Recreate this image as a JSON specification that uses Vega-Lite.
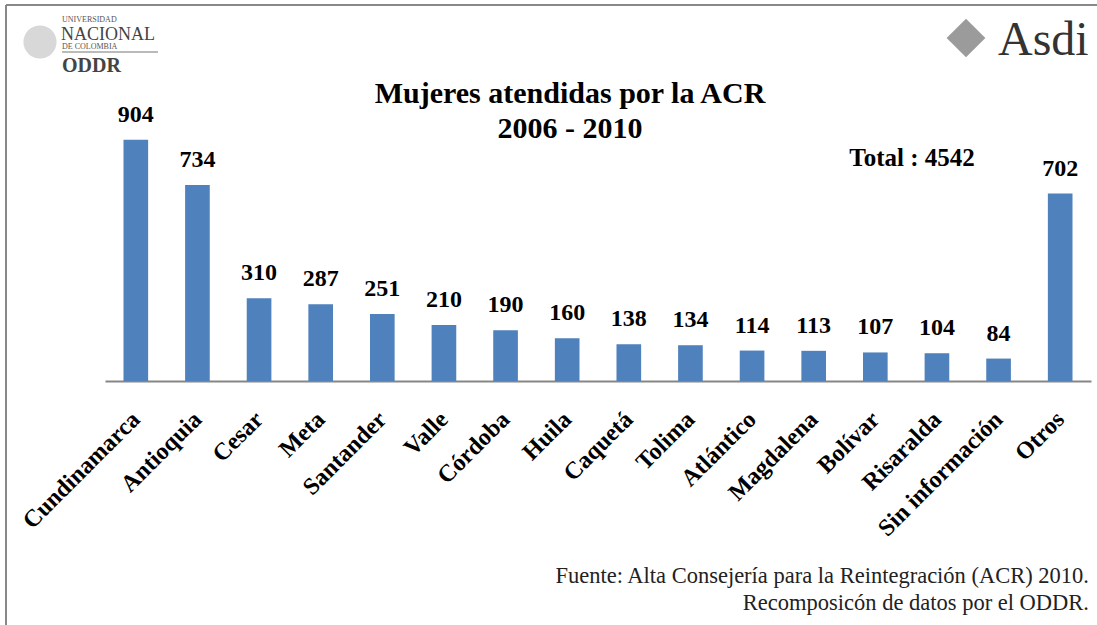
{
  "$schema": "https://vega.github.io/schema/vega-lite/v6.json",
  "width": 986,
  "height": 267,
  "autosize": "none",
  "padding": {"left": 105, "top": 114, "right": 6, "bottom": 244},
  "background": "white",
  "config": {"view": {"stroke": null}, "font": "Liberation Serif"},
  "data": {
    "values": [
      {"dep": "Cundinamarca", "n": 904},
      {"dep": "Antioquia", "n": 734},
      {"dep": "Cesar", "n": 310},
      {"dep": "Meta", "n": 287},
      {"dep": "Santander", "n": 251},
      {"dep": "Valle", "n": 210},
      {"dep": "Córdoba", "n": 190},
      {"dep": "Huila", "n": 160},
      {"dep": "Caquetá", "n": 138},
      {"dep": "Tolima", "n": 134},
      {"dep": "Atlántico", "n": 114},
      {"dep": "Magdalena", "n": 113},
      {"dep": "Bolívar", "n": 107},
      {"dep": "Risaralda", "n": 104},
      {"dep": "Sin información", "n": 84},
      {"dep": "Otros", "n": 702}
    ]
  },
  "encoding": {
    "x": {
      "field": "dep", "type": "nominal", "sort": null,
      "scale": {"paddingInner": 0.6, "paddingOuter": 0.3},
      "axis": {
        "title": null, "labelAngle": -45, "labelAlign": "right", "labelBaseline": "top",
        "labelFont": "Liberation Serif", "labelFontSize": 24, "labelFontWeight": "bold",
        "labelColor": "black", "labelPadding": 26, "labelOffset": -8, "ticks": false,
        "domainColor": "#868686", "domainWidth": 2, "labelOverlap": false, "labelBound": false, "labelLimit": 0
      }
    },
    "y": {"field": "n", "type": "quantitative", "scale": {"domain": [0, 1000]}, "axis": null}
  },
  "layer": [
    {"mark": {"type": "bar", "color": "#4F81BD"}},
    {
      "mark": {"type": "text", "dy": -18, "baseline": "alphabetic", "font": "Liberation Serif", "fontSize": 24, "fontWeight": "bold", "color": "black"},
      "encoding": {"text": {"field": "n", "type": "quantitative"}}
    },
    {
      "data": {"values": [{}]},
      "layer": [
        {"mark": {"type": "rule", "color": "#888888", "strokeWidth": 2}, "encoding": {"x": {"value": -99}, "y": {"value": -109}, "y2": {"value": 511}}},
        {"mark": {"type": "rule", "color": "#888888", "strokeWidth": 2}, "encoding": {"x": {"value": -99}, "x2": {"value": 992}, "y": {"value": -109}}},
        {"mark": {"type": "text", "align": "center", "baseline": "alphabetic", "font": "Liberation Serif", "fontSize": 30, "fontWeight": "bold", "color": "black", "text": "Mujeres atendidas por la ACR"}, "encoding": {"x": {"value": 465}, "y": {"value": -11}}},
        {"mark": {"type": "text", "align": "center", "baseline": "alphabetic", "font": "Liberation Serif", "fontSize": 30, "fontWeight": "bold", "color": "black", "text": "2006 - 2010"}, "encoding": {"x": {"value": 465}, "y": {"value": 24}}},
        {"mark": {"type": "text", "align": "center", "baseline": "alphabetic", "font": "Liberation Serif", "fontSize": 25, "fontWeight": "bold", "color": "black", "text": "Total : 4542"}, "encoding": {"x": {"value": 807}, "y": {"value": 52}}},
        {"mark": {"type": "text", "align": "right", "baseline": "alphabetic", "font": "Liberation Serif", "fontSize": 22.5, "color": "#222222", "text": "Fuente: Alta Consejería para la Reintegración (ACR) 2010."}, "encoding": {"x": {"value": 984}, "y": {"value": 469}}},
        {"mark": {"type": "text", "align": "right", "baseline": "alphabetic", "font": "Liberation Serif", "fontSize": 22.5, "color": "#222222", "text": "Recomposicón de datos por el ODDR."}, "encoding": {"x": {"value": 984}, "y": {"value": 496}}},
        {"mark": {"type": "point", "shape": "circle", "filled": true, "color": "#c8c8c8", "size": 1100}, "encoding": {"x": {"value": -65}, "y": {"value": -72}}},
        {"mark": {"type": "text", "align": "left", "baseline": "alphabetic", "font": "Liberation Serif", "fontSize": 8, "color": "#555555", "text": "UNIVERSIDAD"}, "encoding": {"x": {"value": -43}, "y": {"value": -92}}},
        {"mark": {"type": "text", "align": "left", "baseline": "alphabetic", "font": "Liberation Serif", "fontSize": 18, "color": "#444444", "text": "NACIONAL"}, "encoding": {"x": {"value": -44}, "y": {"value": -74}}},
        {"mark": {"type": "text", "align": "left", "baseline": "alphabetic", "font": "Liberation Serif", "fontSize": 8, "color": "#555555", "text": "DE COLOMBIA"}, "encoding": {"x": {"value": -43}, "y": {"value": -65}}},
        {"mark": {"type": "rule", "color": "#777777", "strokeWidth": 1}, "encoding": {"x": {"value": -43}, "x2": {"value": 53}, "y": {"value": -62}}},
        {"mark": {"type": "text", "align": "left", "baseline": "alphabetic", "font": "Liberation Serif", "fontSize": 20, "fontWeight": "bold", "color": "#444444", "text": "ODDR"}, "encoding": {"x": {"value": -43}, "y": {"value": -42}}},
        {"mark": {"type": "point", "shape": "diamond", "filled": true, "color": "#707070", "size": 1500}, "encoding": {"x": {"value": 861}, "y": {"value": -76}}},
        {"mark": {"type": "text", "align": "left", "baseline": "alphabetic", "font": "Liberation Serif", "fontSize": 48, "color": "#333333", "text": "Asdi"}, "encoding": {"x": {"value": 893}, "y": {"value": -59}}}
      ]
    }
  ]
}
